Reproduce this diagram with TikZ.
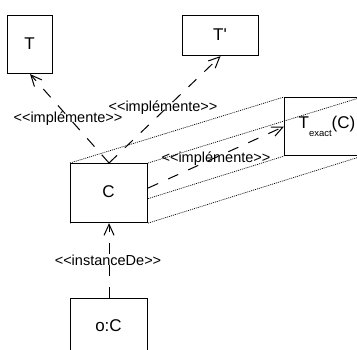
\documentclass[tikz,border=0pt]{standalone}
\usepackage{fontspec}
\setmainfont[Ligatures=TeXOff]{Liberation Sans}
\usetikzlibrary{arrows.meta,backgrounds}
\begin{document}
\begin{tikzpicture}[x=1pt,y=-1pt,
  box/.style={draw, line width=1.1pt, fill=white, inner sep=0pt, anchor=north west},
  boxtext/.style={font=\fontsize{17}{17}\selectfont, inner sep=0pt},
  dep/.style={line width=1pt, dash pattern=on 11pt off 11pt,
    -{Straight Barb[length=11pt,width=10pt,line width=1pt]}},
  lbl/.style={font=\fontsize{14.5}{14.5}\selectfont, inner sep=0pt},
  proj/.style={line width=0.7pt, dash pattern=on 1pt off 1pt}]
\useasboundingbox (0,0) rectangle (357,349);
% boxes
\node[box, minimum width=45pt, minimum height=58pt] (T) at (7,15) {};
\node[boxtext] (Tl) at (29.5,44) {T};
\node[box, minimum width=76pt, minimum height=40pt] (Tp) at (182,15) {};
\node[boxtext] (Tpl) at (220,35) {T'};
\node[box, fill=none, minimum width=77pt, minimum height=58pt] (Tx) at (284,97) {};
\node[boxtext] (Txl) at (327,126) {T\raisebox{-8pt}{\fontsize{9.5}{9.5}\selectfont exact}(C)};
\node[box, minimum width=77pt, minimum height=59pt] (C) at (70,163) {};
\node[boxtext] (Cl) at (108.5,192) {C};
\node[box, minimum width=77pt, minimum height=59pt] (O) at (70,298) {};
\node[boxtext] (Ol) at (108.5,326) {o:C};
% projection lines
\begin{scope}[on background layer]
\draw[proj] (C.north west) -- (Tx.north west);
\draw[proj] (C.north east) -- (Tx.north east);
\draw[proj] (C.south west) -- (Tx.south west);
\draw[proj] (C.south east) -- (Tx.south east);
\end{scope}
% dependencies
\draw[dep] (C.north) -- (T.south);
\draw[dep] (C.north) -- (Tp.south);
\draw[dep] ([yshift=5pt]C.east) -- (Tx.west);
\draw[dep] (O.north) -- (C.south);
% labels
\node[lbl] (l1) at (68,119) {<<implémente>>};
\node[lbl] (l2) at (163,108) {<<implémente>>};
\node[lbl] (l3) at (216,159) {<<implémente>>};
\node[lbl] (l4) at (108,260) {<<instanceDe>>};
\end{tikzpicture}
\end{document}
